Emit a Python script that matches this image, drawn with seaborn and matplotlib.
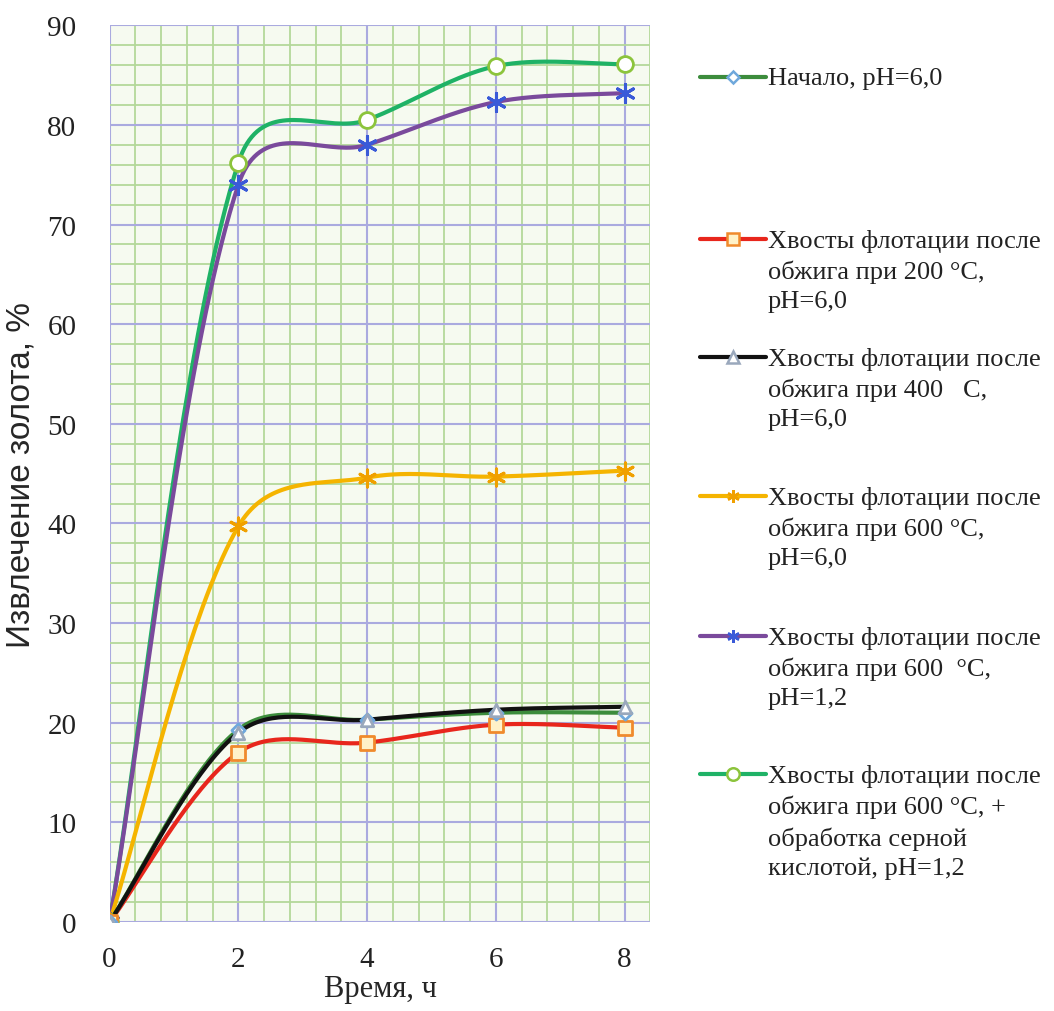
import numpy as np
import pandas as pd
import seaborn as sns
import matplotlib.pyplot as plt
from matplotlib.lines import Line2D
from matplotlib.ticker import MultipleLocator

# data
hours = [0, 2, 4, 6, 8]
start_ph6 = [0, 19.3, 20.3, 21.0, 21.0]
t200_ph6 = [0, 17.0, 18.0, 19.8, 19.5]
t400_ph6 = [0, 19.0, 20.3, 21.3, 21.6]
t600_ph6 = [0, 39.7, 44.6, 44.7, 45.3]
t600_ph12 = [0, 74.0, 78.0, 82.3, 83.2]
t600_acid = [0, 76.2, 80.5, 85.9, 86.1]

labels = [
    "Начало, pH=6,0",
    "Хвосты флотации после\nобжига при 200 °C,\npH=6,0",
    "Хвосты флотации после\nобжига при 400   C,\npH=6,0",
    "Хвосты флотации после\nобжига при 600 °C,\npH=6,0",
    "Хвосты флотации после\nобжига при 600  °C,\npH=1,2",
    "Хвосты флотации после\nобжига при 600 °C, +\nобработка серной\nкислотой, pH=1,2",
]
series = [start_ph6, t200_ph6, t400_ph6, t600_ph6, t600_ph12, t600_acid]

# line colour, marker, marker face, marker edge, marker size
styles = [
    ("#3c8c3c", "D", "white", "#6fa8dc", 45),
    ("#e8261c", "s", "#fff2c8", "#f08a2c", 110),
    ("#111111", "^", "white", "#9aa8bc", 80),
    ("#f5b400", (6, 2, 0), "#f0a000", "#f0a000", 150),
    ("#7a4a9c", (6, 2, 0), "#3a5ad8", "#3a5ad8", 170),
    ("#1fb266", "o", "white", "#8cc43c", 130),
]


def smooth(xs, ys, n=40, sx=6.4):
    # Excel-like smoothed line: Bezier, control arms damped on uneven segments
    p = np.column_stack([np.asarray(xs, float) * sx, ys]).astype(float)
    m = len(p)
    outc, inc = [], []
    for i in range(m):
        a = p[max(i - 1, 0)]
        b = p[min(i + 1, m - 1)]
        d0 = np.linalg.norm(p[i] - a)
        d1 = np.linalg.norm(b - p[i])
        tot = d0 + d1 if d0 + d1 > 0 else 1
        tan = (b - a) / 6
        outc.append(p[i] + tan * np.sqrt(2 * d1 / tot))
        inc.append(p[i] - tan * np.sqrt(2 * d0 / tot))
    out = []
    for i in range(m - 1):
        p1, c1, c2, p2 = p[i], outc[i], inc[i + 1], p[i + 1]
        t = np.linspace(0, 1, n)[:, None]
        seg = ((1 - t) ** 3) * p1 + 3 * ((1 - t) ** 2) * t * c1 + 3 * (1 - t) * t ** 2 * c2 + t ** 3 * p2
        out.append(seg if i == 0 else seg[1:])
    res = np.vstack(out)
    res[:, 0] /= sx
    return res


frames = []
for lab, ys in zip(labels, series):
    c = smooth(hours, ys)
    frames.append(pd.DataFrame({"x": c[:, 0], "y": c[:, 1], "series": lab}))
curves = pd.concat(frames, ignore_index=True)

sns.set_style("white")
plt.rcParams["font.family"] = ["Liberation Serif", "DejaVu Serif"]

fig = plt.figure(figsize=(10.54, 10.12), dpi=100)
ax = fig.add_axes([0.104, 0.088, 0.513, 0.886])
ax.set_facecolor("#f6faf0")

palette = {lab: st[0] for lab, st in zip(labels, styles)}
order = [5, 4, 3, 1, 0, 2]
for i in order:
    sub = curves[curves["series"] == labels[i]]
    sns.lineplot(data=sub, x="x", y="y", sort=False, estimator=None,
                 color=palette[labels[i]], linewidth=3, ax=ax, legend=False, zorder=3)
for i in order:
    col, mk, face, edge, s = styles[i]
    if isinstance(mk, tuple):
        sns.scatterplot(x=hours, y=series[i], marker=mk, s=s, color=face,
                        linewidth=2.2, ax=ax, zorder=4, legend=False)
    else:
        sns.scatterplot(x=hours, y=series[i], marker=mk, s=s, color=face,
                        edgecolor=edge, linewidth=2, ax=ax, zorder=4, legend=False)

ax.set_xlim(0, 8.4)
ax.set_ylim(0, 90)
ax.xaxis.set_major_locator(MultipleLocator(2))
ax.xaxis.set_minor_locator(MultipleLocator(0.4))
ax.yaxis.set_major_locator(MultipleLocator(10))
ax.yaxis.set_minor_locator(MultipleLocator(2))
ax.grid(which="minor", color="#b4d89a", linewidth=1.3, zorder=0)
ax.grid(which="major", color="#aaaadf", linewidth=1.5, zorder=1)
ax.set_axisbelow(True)
for sp in ax.spines.values():
    sp.set_visible(False)
ax.tick_params(which="both", length=0, labelsize=21, colors="#222222")
ax.tick_params(axis="y", pad=24)
ax.tick_params(axis="x", pad=17)

ax.set_xlabel("Время, ч", fontsize=22, labelpad=2)
ax.set_ylabel("Извлечение золота, %", fontsize=24, family="Liberation Sans", labelpad=8)

# legend to the right of the plot
first_line_y = [78, 240, 358, 497, 637, 775]
W, H = 1054, 1012
for i, lab in enumerate(labels):
    col, mk, face, edge, s = styles[i]
    yy = 1 - first_line_y[i] / H
    fig.add_artist(Line2D([700 / W, 766 / W], [yy, yy], color=col, linewidth=3,
                          transform=fig.transFigure))
    fig.add_artist(Line2D([733 / W], [yy], marker=mk, markersize=9 if mk != "D" else 6,
                          markerfacecolor=face, markeredgecolor=edge, markeredgewidth=1.8,
                          linestyle="none", transform=fig.transFigure))
    fig.text(768 / W, yy + 10 / H, lab, fontsize=19, va="top", ha="left",
             color="#222222", linespacing=1.42)

fig.savefig("out.png", dpi=100)
